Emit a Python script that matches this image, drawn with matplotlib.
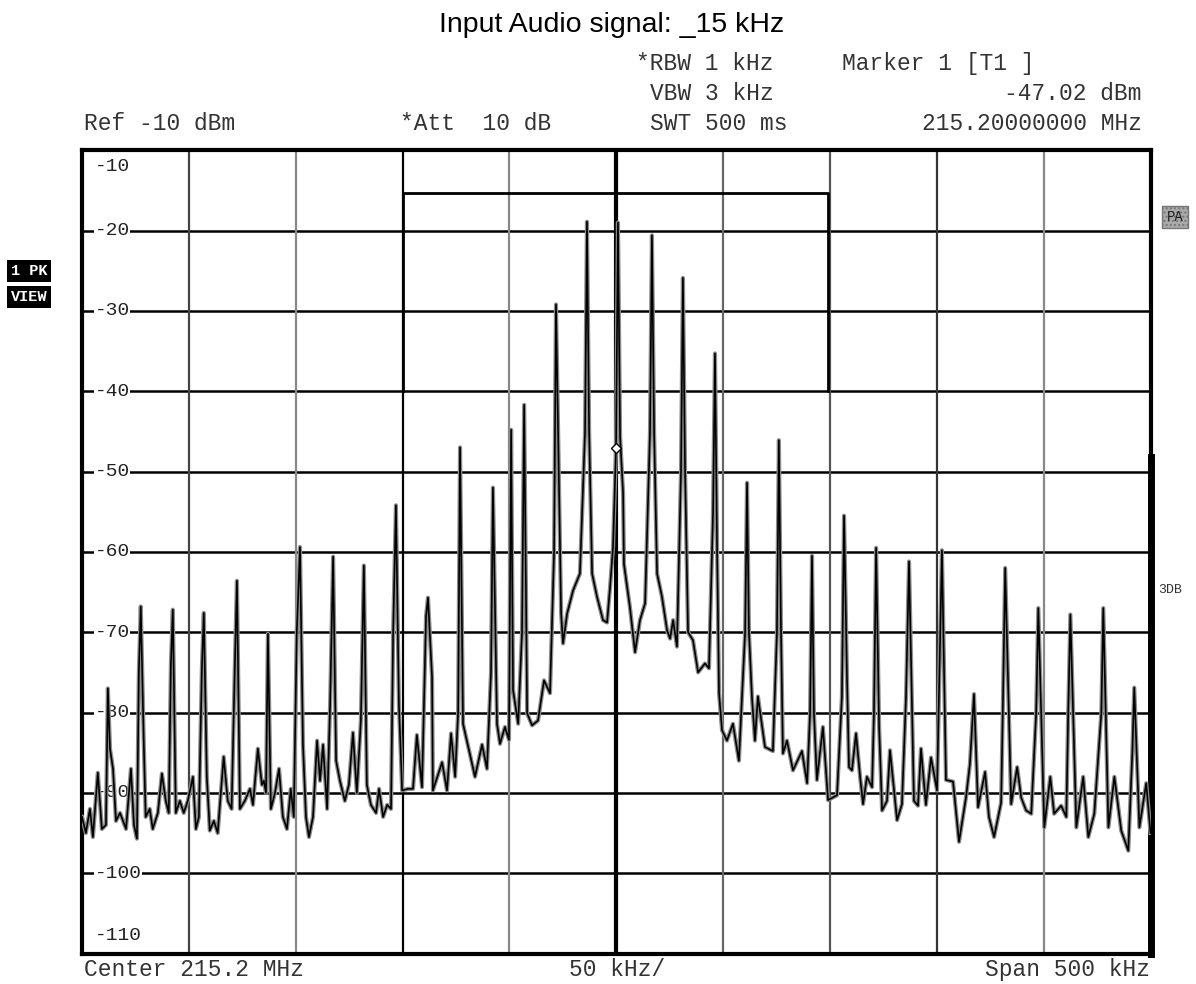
import numpy as np
import matplotlib
matplotlib.use("Agg")
import matplotlib.pyplot as plt

W, H = 1196, 984

# spectrum trace: (offset from 215.2 MHz in kHz, level in dBm)
left_wing = [
    (-250.0, -93), (-248.2, -95), (-246.3, -92), (-244.9, -95.5), (-242.6, -87.5),
    (-240.7, -94.5), (-238.8, -94), (-237.9, -77), (-236.9, -84.5), (-235.5, -87),
    (-234.1, -93.5), (-232.2, -92.5), (-229.4, -94.5), (-227.1, -87), (-225.7, -94),
    (-224.3, -95.7), (-223.4, -75), (-222.5, -66.8), (-221.1, -83.7), (-220.2, -93),
    (-218.3, -92), (-216.9, -94.5), (-214.5, -92.5), (-212.6, -87.6), (-210.8, -91),
    (-209.4, -92.5), (-208.4, -74), (-207.5, -67.2), (-206.1, -92.5), (-204.2, -91),
    (-202.4, -92.5), (-200.5, -91), (-198.1, -88), (-196.7, -94.5), (-195.3, -93),
    (-193.9, -74.5), (-193.0, -67.6), (-191.6, -88), (-190.2, -94.7), (-188.3, -93.5),
    (-186.5, -95), (-183.7, -85.5), (-181.8, -91), (-180.0, -92), (-178.5, -74.4),
    (-177.5, -63.6), (-176.1, -92), (-173.8, -91), (-171.4, -89.5), (-170.0, -91.5),
    (-167.7, -84.5), (-165.8, -89), (-164.9, -88.5), (-163.9, -90), (-163.0, -70.2),
    (-161.6, -92), (-159.7, -90), (-157.8, -87), (-156.0, -93), (-154.1, -94.5),
    (-152.3, -89.5), (-150.9, -93), (-149.5, -70), (-148.0, -59.4), (-146.6, -84),
    (-145.2, -93), (-143.8, -95.5), (-141.9, -93), (-140.0, -83.5), (-138.6, -88.5),
    (-137.2, -84), (-135.3, -92), (-133.9, -79), (-132.5, -60.6), (-131.1, -86),
    (-129.3, -88.5), (-127.0, -91), (-125.1, -89), (-123.2, -82.5), (-121.4, -90),
    (-119.5, -81), (-118.1, -61.7), (-116.7, -89), (-114.8, -91.5), (-112.4, -92.5),
    (-111.0, -89.5), (-109.1, -93), (-107.2, -91.5), (-105.4, -92), (-104.4, -70),
    (-103.1, -54.2), (-101.7, -79), (-100.2, -89.7),
]

pedestal = [
    (-97.4, -89.5), (-95.1, -89.5), (-93.3, -82.8), (-90.9, -89.3), (-89.0, -68),
    (-88.1, -65.7), (-86.2, -75.6), (-85.8, -89.7), (-81.5, -86.2), (-79.2, -89.7),
    (-77.3, -82.6), (-75.4, -88), (-74.0, -80), (-73.1, -47), (-71.7, -81.4),
    (-66.1, -88), (-62.8, -84), (-60.5, -87), (-58.6, -75), (-57.7, -52),
    (-55.8, -81.4), (-54.4, -83.9), (-52.1, -81.8), (-50.2, -83.4), (-49.2, -44.8),
    (-48.3, -77.2), (-45.9, -81.4), (-44.1, -70), (-43.1, -41.7), (-41.7, -80.1),
    (-39.4, -81.6), (-36.6, -81), (-33.8, -76), (-31.0, -77.6), (-29.1, -60),
    (-28.2, -29.2), (-25.8, -67.7), (-24.9, -71.4), (-23.0, -67.7), (-20.2, -64.8),
    (-17.0, -62.7), (-14.6, -45), (-13.7, -18.9), (-12.7, -45), (-11.3, -62.7),
    (-9.0, -65.6), (-6.2, -68.5), (-4.3, -68.8), (-2.9, -64.4), (-1.5, -59.4),
    (-0.1, -47), (0.8, -19), (1.8, -45.7), (3.2, -52.7), (3.6, -61.5),
    (6.4, -66.9), (8.8, -72.5), (11.1, -68.5), (13.5, -66.4), (15.8, -45),
    (16.7, -20.6), (17.7, -45), (19.1, -62.7), (21.4, -65.6), (23.8, -69.8),
    (25.2, -70.8), (26.6, -68.5), (28.4, -71.8), (30.3, -50), (31.2, -25.9),
    (32.2, -50), (33.6, -70), (35.9, -71), (38.3, -75), (41.5, -73.9),
    (43.4, -74.5), (45.3, -55), (46.2, -35.3), (47.2, -60), (48.1, -77.6),
    (49.5, -82.2), (51.8, -83.5), (54.6, -81.4), (57.4, -86), (60.3, -70),
    (61.2, -51.4), (62.1, -70), (63.5, -78.1), (64.9, -83.5), (66.3, -78),
    (69.6, -84.3), (73.3, -84.8), (75.2, -70), (76.1, -46.1), (77.1, -70),
    (78.0, -85.1), (79.9, -83.5), (82.7, -87.2), (86.9, -84.8), (89.3, -88.8),
    (90.7, -80), (91.6, -60.5), (92.5, -80), (93.9, -88.4), (96.7, -81.8),
    (99.1, -90.9),
]

right_wing = [
    (103.3, -90.3), (105.6, -78), (106.6, -55.5), (108.0, -76), (108.9, -86.8),
    (110.3, -87.2), (112.2, -82.6), (114.1, -88), (115.5, -91.4), (117.3, -88),
    (119.7, -89.3), (120.6, -80), (121.6, -59.5), (123.0, -81.8), (124.4, -92.2),
    (126.7, -91), (128.1, -84.7), (131.4, -93.4), (133.7, -91.4), (135.6, -78),
    (137.0, -61.2), (139.3, -91), (141.2, -91.6), (142.6, -84.5), (144.9, -91.5),
    (147.3, -85.6), (150.1, -89.7), (151.0, -78), (152.4, -59.8), (154.3, -88.4),
    (157.6, -88.6), (160.4, -96.1), (163.7, -90.5), (165.5, -86.4), (167.4, -77.7),
    (169.3, -91.8), (172.6, -87.4), (174.4, -93), (176.8, -95.5), (180.1, -91.2),
    (181.0, -78), (182.0, -62), (184.8, -91.4), (187.6, -86.8), (189.5, -90.6),
    (191.8, -92.2), (194.2, -92.6), (196.5, -80), (197.5, -67), (200.3, -94.3),
    (203.1, -88), (204.9, -92.6), (208.2, -91.6), (210.6, -93), (211.5, -80),
    (212.5, -67.8), (215.3, -94.3), (218.5, -88), (220.9, -95.5), (223.7, -92.6),
    (227.0, -80), (227.9, -67), (230.3, -94.3), (233.1, -88), (236.3, -94.7),
    (239.6, -97.2), (241.5, -85), (242.4, -76.9), (244.8, -94.3), (248.0, -88.8),
    (250.0, -95),
]

# limit line
limit_khz = [-100, -100, 99, 99]
limit_dbm = [-40, -15.3, -15.3, -40]

marker_khz = 0.0
marker_dbm = -47.02

x_ticks = np.arange(-250, 251, 50)
y_ticks = np.arange(-10, -111, -10)
y_labels = [str(v) for v in y_ticks]

MONO = ['Liberation Mono', 'DejaVu Sans Mono']
SANS = ['Liberation Sans', 'DejaVu Sans']

trace = np.array(left_wing + pedestal + right_wing)

fig = plt.figure(figsize=(W / 100, H / 100), dpi=100)
ax = fig.add_axes([82 / W, 1 - 953.5 / H, 1068.5 / W, 803.3 / H])
ax.set_xlim(-250, 250)
ax.set_ylim(-110, -10)
ax.set_xticks([])
ax.set_yticks([])
for sp in ax.spines.values():
    sp.set_linewidth(3)
    sp.set_color('black')

# graticule
for v in y_ticks[1:-1]:
    ax.axhline(v, color='black', lw=1.8, zorder=1)
v_colors = ['#444', '#888', 'black', '#888', 'black', '#666', '#555', '#333', '#888']
for f, c in zip(x_ticks[1:-1], v_colors):
    ax.axvline(f, color=c, lw=3 if f == 0 else 1.6, zorder=1)

# level labels sit on the graticule lines
for v, lab in zip(y_ticks, y_labels):
    pos = v
    if v == -10:
        pos = -12
    elif v == -110:
        pos = -107.7
    ax.text(-244, pos, lab, family=MONO, fontsize=14, color='#222',
            ha='left', va='center', zorder=2,
            bbox=dict(facecolor='white', edgecolor='none', pad=0.3))

ax.plot(limit_khz, limit_dbm, color='black', lw=2, zorder=3)
ax.plot([250, 250], [-48.2, -110], color='black', lw=5, zorder=3, clip_on=False)

ax.plot(trace[:, 0], trace[:, 1], color='0.55', lw=3.0, zorder=4)
ax.plot(trace[:, 0], trace[:, 1], color='black', lw=1.2, zorder=5)
ax.plot(marker_khz, marker_dbm, marker='D', ms=5, mfc='white', mec='black', mew=1, zorder=6)


def ftext(x, y, s, **kw):
    fig.text(x / W, 1 - y / H, s, **kw)


ftext(612, 32, 'Input Audio signal: _15 kHz', family=SANS, fontsize=20.5,
      ha='center', va='baseline', color='black')

hdr = dict(family=MONO, fontsize=16.5, color='#333', va='baseline')
ftext(636, 70, '*RBW 1 kHz', ha='left', **hdr)
ftext(842, 70, 'Marker 1 [T1 ]', ha='left', **hdr)
ftext(650, 100, 'VBW 3 kHz', ha='left', **hdr)
ftext(1142, 100, '-47.02 dBm', ha='right', **hdr)
ftext(84, 130, 'Ref -10 dBm', ha='left', **hdr)
ftext(400, 130, '*Att  10 dB', ha='left', **hdr)
ftext(650, 130, 'SWT 500 ms', ha='left', **hdr)
ftext(1142, 130, '215.20000000 MHz', ha='right', **hdr)

ftext(84, 976, 'Center 215.2 MHz', ha='left', **hdr)
ftext(617, 976, '50 kHz/', ha='center', **hdr)
ftext(1150, 976, 'Span 500 kHz', ha='right', **hdr)

box = dict(family=MONO, fontsize=11, color='white', fontweight='bold', va='center', ha='left')
ftext(11, 271, '1 PK', bbox=dict(facecolor='black', edgecolor='none', pad=2.5), **box)
ftext(11, 297, 'VIEW', bbox=dict(facecolor='black', edgecolor='none', pad=2.5), **box)

ftext(1175, 217, 'PA', family=MONO, fontsize=10, color='#222', ha='center', va='center',
      bbox=dict(facecolor='#aaa', edgecolor='#777', pad=3, hatch='....'))
ftext(1158, 590, '3DB', family=MONO, fontsize=9.5, color='#333', ha='left', va='center')

fig.savefig('out.png', dpi=100)
